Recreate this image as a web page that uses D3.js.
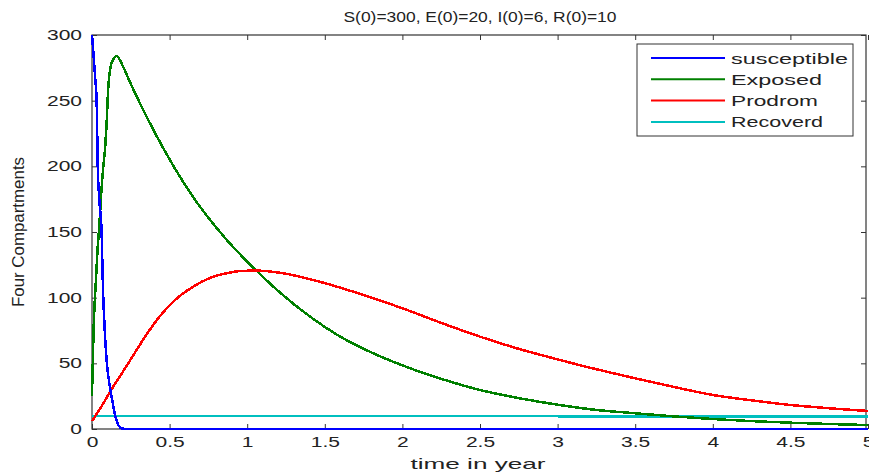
<!DOCTYPE html>
<html lang="en">
<head>
<meta charset="utf-8">
<title>Four Compartments</title>
<script src="https://d3js.org/d3.v7.min.js"></script>
<style>
  body { margin: 0; background: #fff; }
  svg { display: block; font-family: "Liberation Sans", Arial, sans-serif; }
  .tick text { font-size: 14px; fill: #222; }
  .curve { fill: none; stroke-width: 2.5; shape-rendering: crispEdges; }
</style>
</head>
<body>
<div id="chart"></div>
<script>
// values
var titleText = "S(0)=300, E(0)=20, I(0)=6, R(0)=10";
var xTicks = [0, 0.5, 1, 1.5, 2, 2.5, 3, 3.5, 4, 4.5, 5];
var yTicks = [0, 50, 100, 150, 200, 250, 300];
var seriesNames = ["susceptible", "Exposed", "Prodrom", "Recoverd"];
var seriesColors = ["#0000ff", "#008000", "#ff0000", "#00bfbf"];
var legendWidths = [117, 91, 87, 92];

var susceptibleT = [0, 0.01, 0.02, 0.03, 0.037, 0.047, 0.062, 0.07, 0.08, 0.096, 0.11, 0.13, 0.15, 0.17, 0.19, 0.22, 5];
var susceptibleV = [300, 285, 268, 250, 200, 175, 150, 110, 80, 50, 36, 22, 10, 3, 0.5, 0, 0];

var exposedT = [0, 0.005, 0.01, 0.015, 0.026, 0.035, 0.047, 0.06, 0.073, 0.085, 0.092, 0.105, 0.12, 0.14, 0.159, 0.2, 0.245, 0.417, 0.632, 0.868, 1.06, 1.21, 1.4, 1.6, 1.8, 2.01, 2.25, 2.5, 2.75, 3, 3.25, 3.5, 3.75, 4, 4.25, 4.5, 4.75, 5];
var exposedV = [25, 50, 75, 90, 115, 135, 155, 180, 200, 215, 228, 260, 276, 282, 284, 276, 264, 223, 180, 144, 120.5, 104, 86, 70.3, 58.3, 48, 38.2, 29.7, 23.5, 18.5, 14.5, 12, 9.6, 7.6, 6, 4.8, 3.8, 3];

var prodromT = [0, 0.06, 0.125, 0.223, 0.352, 0.438, 0.524, 0.652, 0.76, 0.867, 0.96, 1.06, 1.21, 1.49, 1.75, 2.01, 2.25, 2.5, 2.75, 3, 3.14, 3.5, 3.75, 4, 4.25, 4.5, 4.75, 5];
var prodromV = [6, 17, 30, 48, 72, 86, 97, 108.4, 115, 118.6, 120.3, 120.6, 119, 111.4, 102, 91.5, 80.8, 70.3, 61, 53, 48.7, 38.6, 32, 25.9, 21.8, 18.3, 15.8, 13.7];

var recoverdT = [0, 1, 2, 3, 4, 5];
var recoverdV = [10, 9.9, 9.8, 9.7, 9.5, 9.4];

var width = 869, height = 472;
var margin = {top: 35, right: 1, bottom: 43, left: 92};

var svg = d3.select("#chart").append("svg")
    .attr("width", width)
    .attr("height", height);

var x = d3.scaleLinear().domain([0, 5]).range([margin.left, width - margin.right]);
var y = d3.scaleLinear().domain([0, 300]).range([height - margin.bottom, margin.top]);

var x0 = x.range()[0], x1 = x.range()[1], y0 = y.range()[0], y1 = y.range()[1];

// axes (ticks point inward, like matlab)
svg.append("g")
    .attr("class", "lab")
    .attr("transform", "translate(0," + y0 + ")")
    .call(d3.axisBottom(x).tickValues(xTicks).tickSize(-5).tickPadding(8).tickFormat(d3.format("")))
    .call(function(g) { g.select(".domain").remove(); });
svg.append("g")
    .attr("transform", "translate(0," + y1 + ")")
    .call(d3.axisTop(x).tickValues(xTicks).tickSize(-5).tickFormat(""))
    .call(function(g) { g.select(".domain").remove(); });
svg.append("g")
    .attr("class", "lab")
    .attr("transform", "translate(" + x0 + ",0)")
    .call(d3.axisLeft(y).tickValues(yTicks).tickSize(-5).tickPadding(10))
    .call(function(g) { g.select(".domain").remove(); });
svg.append("g")
    .attr("transform", "translate(" + (x1 - 2) + ",0)")
    .call(d3.axisRight(y).tickValues(yTicks).tickSize(-5).tickFormat(""))
    .call(function(g) { g.select(".domain").remove(); });
svg.selectAll(".tick line").attr("stroke", "#333");

// matlab's font is wide, stretch the tick labels
svg.selectAll(".lab .tick text").each(function() {
  var len = this.getComputedTextLength();
  d3.select(this).attr("textLength", len * 1.5).attr("lengthAdjust", "spacingAndGlyphs");
});

// box
svg.append("rect")
    .attr("x", x0).attr("y", y1)
    .attr("width", x1 - x0 - 2).attr("height", y0 - y1)
    .attr("fill", "none").attr("stroke", "#333").attr("stroke-width", 1.2);

// curves
var line = d3.line()
    .curve(d3.curveMonotoneX)
    .x(function(d) { return x(d[0]); })
    .y(function(d) { return y(d[1]); });
function pairs(ts, vs) { return ts.map(function(t, i) { return [t, vs[i]]; }); }
var allSeries = [
  pairs(recoverdT, recoverdV),
  pairs(exposedT, exposedV),
  pairs(prodromT, prodromV),
  pairs(susceptibleT, susceptibleV)
];
var order = [3, 1, 2, 0];
svg.append("g").selectAll("path")
    .data(allSeries)
    .enter().append("path")
    .attr("class", "curve")
    .attr("stroke", function(d, i) { return seriesColors[order[i]]; })
    .attr("d", line);

// title and labels
svg.append("text")
    .attr("x", 480).attr("y", 22)
    .attr("text-anchor", "middle")
    .attr("font-size", 15).attr("fill", "#222")
    .attr("textLength", 273).attr("lengthAdjust", "spacingAndGlyphs")
    .text(titleText);
svg.append("text")
    .attr("x", 478).attr("y", 469)
    .attr("text-anchor", "middle")
    .attr("font-size", 15).attr("fill", "#222")
    .attr("textLength", 135).attr("lengthAdjust", "spacingAndGlyphs")
    .text("time in year");
svg.append("text")
    .attr("transform", "translate(24," + 232 + ") rotate(-90)")
    .attr("text-anchor", "middle")
    .attr("font-size", 16).attr("fill", "#222")
    .attr("textLength", 150).attr("lengthAdjust", "spacingAndGlyphs")
    .text("Four Compartments");

// legend
var legend = svg.append("g").attr("transform", "translate(637,44)");
legend.append("rect")
    .attr("width", 216).attr("height", 92)
    .attr("fill", "#fff").attr("stroke", "#333").attr("stroke-width", 1);
var item = legend.selectAll(".item")
    .data(seriesNames)
    .enter().append("g")
    .attr("transform", function(d, i) { return "translate(0," + (14 + i * 21.3) + ")"; });
item.append("line")
    .attr("x1", 14).attr("x2", 88)
    .attr("stroke", function(d, i) { return seriesColors[i]; })
    .attr("stroke-width", 2);
item.append("text")
    .attr("x", 94).attr("y", 5.5)
    .attr("font-size", 15).attr("fill", "#222")
    .attr("textLength", function(d, i) { return legendWidths[i]; })
    .attr("lengthAdjust", "spacingAndGlyphs")
    .text(function(d) { return d; });
</script>
</body>
</html>
